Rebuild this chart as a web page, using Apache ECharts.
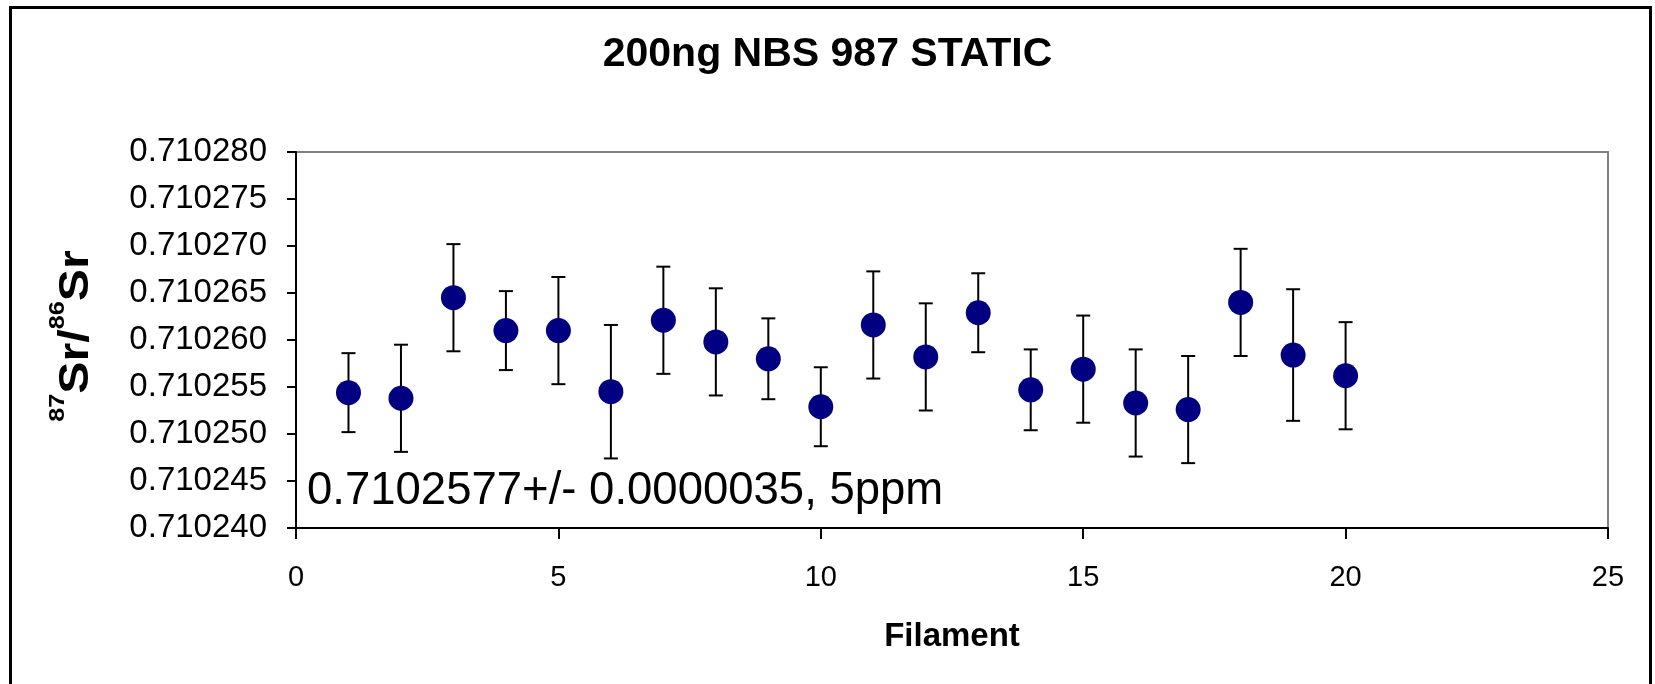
<!DOCTYPE html>
<html>
<head>
<meta charset="utf-8">
<title>200ng NBS 987 STATIC</title>
<script src="https://cdn.jsdelivr.net/npm/echarts@6/dist/echarts.min.js"></script>
<style>
  html, body { margin: 0; padding: 0; background: #ffffff; }
  #chart { width: 1655px; height: 684px; }
</style>
</head>
<body>
<div id="chart"></div>
<script>
// Filament number for each run
const filament = [1, 2, 3, 4, 5, 6, 7, 8, 9, 10, 11, 12, 13, 14, 15, 16, 17, 18, 19, 20];

// Measured 87Sr/86Sr ratio per filament
const ratio = [
  0.7102544, 0.7102538, 0.7102645, 0.7102610, 0.7102610,
  0.7102545, 0.7102621, 0.7102598, 0.7102580, 0.7102529,
  0.7102616, 0.7102582, 0.7102629, 0.7102547, 0.7102569,
  0.7102533, 0.7102526, 0.7102640, 0.7102584, 0.7102562
];

// Uncertainty (+/-) on each ratio
const ratioErr = [
  0.0000042, 0.0000057, 0.0000057, 0.0000042, 0.0000057,
  0.0000071, 0.0000057, 0.0000057, 0.0000043, 0.0000042,
  0.0000057, 0.0000057, 0.0000042, 0.0000043, 0.0000057,
  0.0000057, 0.0000057, 0.0000057, 0.0000070, 0.0000057
];

// Axis ranges
const yMin = 0.710240, yMax = 0.710280, yStep = 0.000005;
const xMin = 0, xMax = 25, xStep = 5;

const titleText = '200ng NBS 987 STATIC';
const xTitle = 'Filament';
const meanText = '0.7102577+/- 0.0000035, 5ppm';

const FONT = '"Liberation Sans", Arial, Helvetica, sans-serif';

const points = filament.map((f, i) => [f, ratio[i]]);
const bars = filament.map((f, i) => [f, ratio[i], ratioErr[i]]);

const chart = echarts.init(document.getElementById('chart'), null, { renderer: 'canvas' });

chart.setOption({
  backgroundColor: '#ffffff',
  animation: false,
  title: {
    text: titleText,
    left: 'center',
    top: 29,
    textStyle: { fontFamily: FONT, fontSize: 41, fontWeight: 'bold', color: '#000000' }
  },
  grid: {
    left: 296, right: 47, top: 152, bottom: 156,
    show: true,
    borderColor: '#808080',
    borderWidth: 2,
    backgroundColor: 'transparent'
  },
  xAxis: {
    type: 'value',
    min: xMin, max: xMax, interval: xStep,
    name: xTitle,
    nameLocation: 'middle',
    nameGap: 92,
    nameTextStyle: { fontFamily: FONT, fontSize: 33, fontWeight: 'bold', color: '#000000' },
    axisLine: { show: true, onZero: false, lineStyle: { color: '#000000', width: 2 } },
    axisTick: { show: true, inside: false, length: 11, lineStyle: { color: '#000000', width: 2 } },
    axisLabel: { fontFamily: FONT, fontSize: 29, color: '#000000', margin: 35 },
    splitLine: { show: false }
  },
  yAxis: {
    type: 'value',
    min: yMin, max: yMax, interval: yStep,
    axisLine: { show: true, onZero: false, lineStyle: { color: '#000000', width: 2 } },
    axisTick: { show: true, inside: false, length: 9, lineStyle: { color: '#000000', width: 2 } },
    axisLabel: {
      fontFamily: FONT, fontSize: 33, color: '#000000', margin: 29,
      formatter: v => v.toFixed(6)
    },
    splitLine: { show: false }
  },
  graphic: [
    // outer chart frame
    {
      type: 'rect',
      silent: true,
      shape: { x: 10.5, y: 7.5, width: 1640, height: 800 },
      style: { fill: 'none', stroke: '#000000', lineWidth: 3 }
    },
    // vertical axis title: 87Sr/86Sr
    {
      type: 'text',
      silent: true,
      x: 97,
      y: 336,
      rotation: Math.PI / 2,
      scaleX: 1.15,
      scaleY: 1,
      style: {
        text: '{sup|87}{main|Sr/}{sup|86}{main|Sr}',
        align: 'center',
        verticalAlign: 'bottom',
        rich: {
          main: { fontFamily: FONT, fontSize: 42, fontWeight: 'bold', fill: '#000000', lineHeight: 50, verticalAlign: 'bottom' },
          sup: { fontFamily: FONT, fontSize: 22, fontWeight: 'bold', fill: '#000000', lineHeight: 22, verticalAlign: 'top' }
        }
      }
    },
    // mean and reproducibility annotation
    {
      type: 'text',
      silent: true,
      x: 307,
      y: 491,
      style: {
        text: meanText,
        fontFamily: FONT,
        fontSize: 45.5,
        fill: '#000000',
        align: 'left',
        verticalAlign: 'middle'
      }
    }
  ],
  series: [
    {
      // error bars with caps
      type: 'custom',
      z: 2,
      data: bars,
      renderItem: function (params, api) {
        const x = api.value(0);
        const y = api.value(1);
        const e = api.value(2);
        const top = api.coord([x, y + e]);
        const bot = api.coord([x, y - e]);
        const hw = 7;
        const style = { stroke: '#000000', lineWidth: 2 };
        return {
          type: 'group',
          children: [
            { type: 'line', shape: { x1: top[0], y1: top[1], x2: bot[0], y2: bot[1] }, style: style },
            { type: 'line', shape: { x1: top[0] - hw, y1: top[1], x2: top[0] + hw, y2: top[1] }, style: style },
            { type: 'line', shape: { x1: bot[0] - hw, y1: bot[1], x2: bot[0] + hw, y2: bot[1] }, style: style }
          ]
        };
      }
    },
    {
      type: 'scatter',
      z: 3,
      data: points,
      symbol: 'circle',
      symbolSize: 25,
      itemStyle: { color: '#000080', opacity: 1 }
    }
  ]
});
</script>
</body>
</html>
